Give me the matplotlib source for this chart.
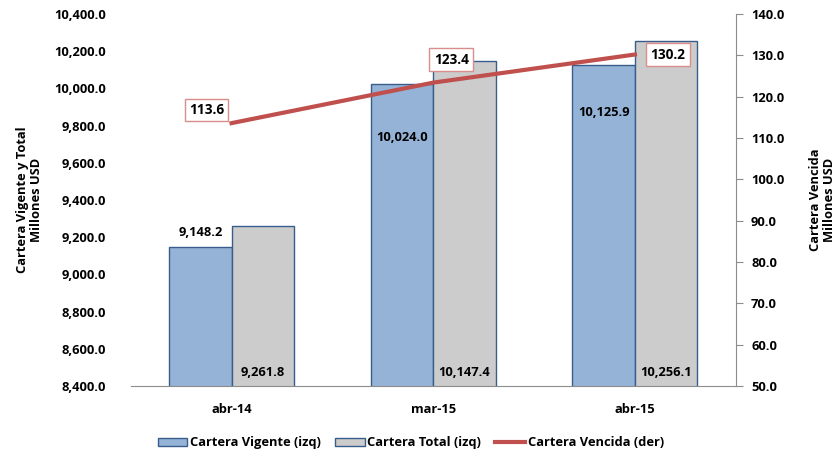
import numpy as np
import matplotlib.pyplot as plt
from matplotlib.ticker import FuncFormatter, MultipleLocator

# --- Datos ---
categorias = ["abr-14", "mar-15", "abr-15"]
vigente = [9148.2, 10024.0, 10125.9]
total = [9261.8, 10147.4, 10256.1]
vencida = [113.6, 123.4, 130.2]

# --- Estilo ---
plt.rcParams['font.family'] = ['Open Sans', 'DejaVu Sans']
plt.rcParams['font.weight'] = 'bold'
c_vig = '#95B3D7'
c_tot = '#CCCCCC'
c_edge = '#385D8A'
c_line = '#C0504D'
fs = 9.3

fig = plt.figure(figsize=(8.38, 4.59), dpi=100)
ax = fig.add_axes([0.156, 0.159, 0.722, 0.8105])
ax2 = ax.twinx()

x = np.arange(len(categorias))
w = 0.31
ax.bar(x - w / 2, vigente, w, color=c_vig, edgecolor=c_edge, lw=1.0,
       label='Cartera Vigente (izq)', zorder=2)
ax.bar(x + w / 2, total, w, color=c_tot, edgecolor=c_edge, lw=1.0,
       label='Cartera Total (izq)', zorder=2)

ax.set_xlim(-0.5, 2.5)
ax.set_ylim(8400, 10400)
ax.yaxis.set_major_locator(MultipleLocator(200))
ax.yaxis.set_major_formatter(FuncFormatter(lambda v, p: f"{v:,.1f}"))
ax.set_xticks(x)
ax.set_xticklabels(categorias)
ax.tick_params(axis='x', length=0, pad=12, labelsize=fs)
ax.tick_params(axis='y', length=0, pad=18, labelsize=fs)
for s in ['left', 'top', 'right']:
    ax.spines[s].set_visible(False)
ax.spines['bottom'].set_color('#8C8C8C')

# etiquetas barras vigente (posiciones ajustadas como en el original)
offs_vig = [14, -54, -48]
for i, v in enumerate(vigente):
    ax.annotate(f"{v:,.1f}", (x[i] - w / 2, v), xytext=(0, offs_vig[i] * 0.72),
                textcoords='offset points', ha='center', va='center',
                fontsize=fs, fontweight='bold', zorder=5)
for i, v in enumerate(total):
    ax.annotate(f"{v:,.1f}", (x[i] + w / 2, 8400), xytext=(0, 14 * 0.72),
                textcoords='offset points', ha='center', va='center',
                fontsize=fs, fontweight='bold', zorder=5)

# --- eje derecho ---
ax2.plot(x, vencida, color=c_line, lw=3, label='Cartera Vencida (der)', zorder=3)
ax2.set_ylim(50, 140)
ax2.yaxis.set_major_locator(MultipleLocator(10))
ax2.yaxis.set_major_formatter(FuncFormatter(lambda v, p: f"{v:.1f}"))
ax2.tick_params(axis='y', length=5, color='#8C8C8C', pad=6, labelsize=fs)
for s in ['left', 'top', 'bottom']:
    ax2.spines[s].set_visible(False)
ax2.spines['right'].set_color('#8C8C8C')

offs_line = [(-25, 13), (18, 23), (33, 0)]
for i, v in enumerate(vencida):
    dx, dy = offs_line[i]
    ax2.annotate(f"{v:.1f}", (x[i], v), xytext=(dx * 0.72, dy * 0.72),
                 textcoords='offset points', ha='center', va='center',
                 fontsize=9.8, fontweight='bold', zorder=6,
                 bbox=dict(boxstyle='square,pad=0.32', fc='white', ec='#D98E8C', lw=1))

ax.set_ylabel("Cartera Vigente y Total\nMillones USD", fontsize=fs, fontweight='bold',
              labelpad=8, linespacing=1.1)
ax2.set_ylabel("Cartera Vencida\nMillones USD", fontsize=fs, fontweight='bold',
               labelpad=18, linespacing=1.1)

h1, l1 = ax.get_legend_handles_labels()
h2, l2 = ax2.get_legend_handles_labels()
fig.legend(h1 + h2, l1 + l2, loc='center', bbox_to_anchor=(0.49, 0.035), ncol=3,
           frameon=False, fontsize=fs, columnspacing=1.1, handlelength=2.3,
           handleheight=0.6, handletextpad=0.2)

fig.savefig("out.png", dpi=100)
